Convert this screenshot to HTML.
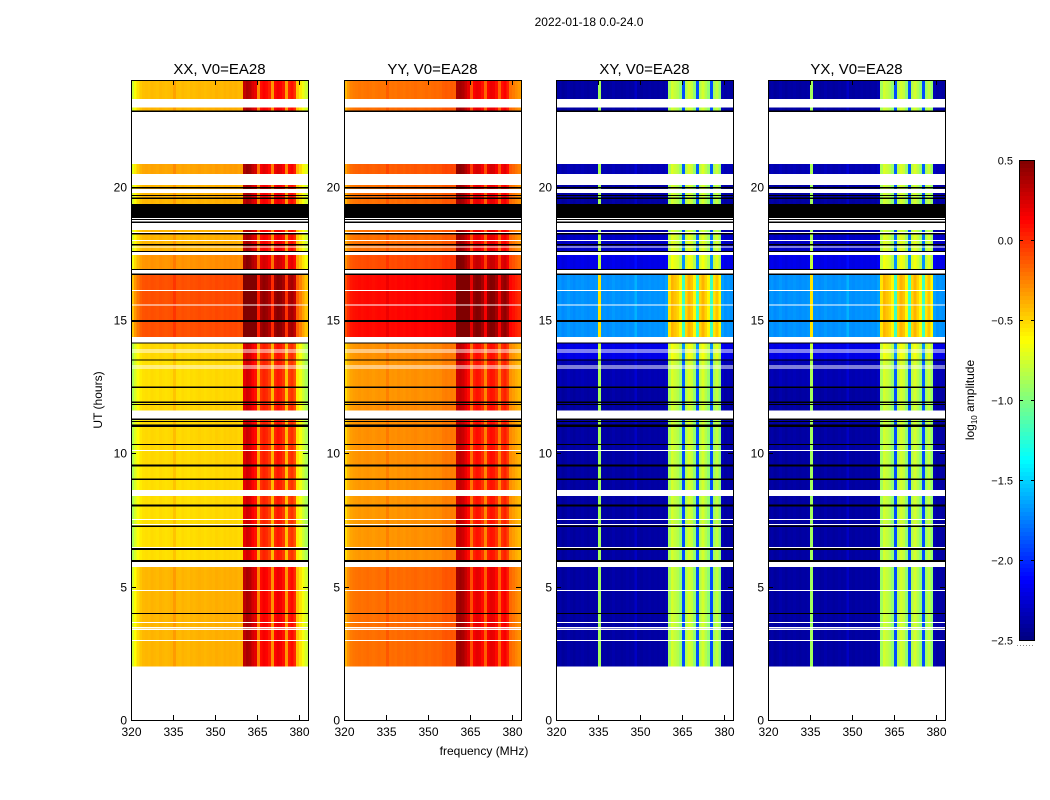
<!DOCTYPE html>
<html><head><meta charset="utf-8">
<style>
html,body{margin:0;padding:0;background:#fff;}
svg{display:block;font-family:"Liberation Sans",sans-serif;}
</style></head>
<body>
<svg id="fig" width="1050" height="800" viewBox="0 0 1050 800" xmlns="http://www.w3.org/2000/svg">
<text x="589" y="26" font-size="12" text-anchor="middle">2022-01-18 0.0-24.0</text>
<text x="102" y="400" font-size="12" text-anchor="middle" transform="rotate(-90 102 400)">UT (hours)</text>
<text x="484" y="755" font-size="12" text-anchor="middle">frequency (MHz)</text>
<g id="panels"></g>
<g id="cbar"></g>
<text x="974" y="400" font-size="12" text-anchor="middle" transform="rotate(-90 974 400)">log<tspan font-size="8" dy="3">10</tspan><tspan dy="-3"> amplitude</tspan></text>
</svg>
<script>
// ---- data ----
const panelTitles = ["XX, V0=EA28","YY, V0=EA28","XY, V0=EA28","YX, V0=EA28"];
const panelKinds = ["par","par","cross","cross"];
const xTicks = [320,335,350,365,380];
const yTicks = [0,5,10,15,20];
const cbTicks = [0.5,0.0,-0.5,-1.0,-1.5,-2.0,-2.5];
const cbTickLabels = ["0.5","0.0","\u22120.5","\u22121.0","\u22121.5","\u22122.0","\u22122.5"];
// channel profiles (1 MHz channels from 320 MHz), log10 amplitude
const profXX = [-0.85,-0.72,-0.62,-0.55,-0.52,-0.51,-0.52,-0.5,-0.51,-0.52,-0.5,-0.51,-0.52,-0.51,-0.5,-0.43,-0.51,-0.52,-0.5,-0.51,-0.52,-0.5,-0.51,-0.5,-0.49,-0.5,-0.51,-0.5,-0.49,-0.5,-0.48,-0.49,-0.5,-0.48,-0.49,-0.48,-0.49,-0.48,-0.5,-0.49,
  0.22,0.28,0.25,0.15,0.1,-0.35,0.0,0.05,0.02,-0.05,-0.4,0.02,0.08,0.05,-0.02,-0.42,-0.05,0.0,-0.1,-0.55,-0.65,-0.75,-0.85,-0.9];
const profYY = [-0.5,-0.4,-0.34,-0.32,-0.31,-0.3,-0.31,-0.3,-0.29,-0.3,-0.31,-0.3,-0.29,-0.3,-0.3,-0.23,-0.3,-0.29,-0.3,-0.28,-0.29,-0.3,-0.28,-0.29,-0.28,-0.27,-0.28,-0.29,-0.28,-0.27,-0.28,-0.27,-0.26,-0.27,-0.26,-0.23,-0.22,-0.23,-0.22,-0.23,
  0.3,0.32,0.28,0.2,0.12,-0.2,0.05,0.1,0.08,0.0,-0.25,0.05,0.1,0.08,0.0,-0.25,0.0,0.05,-0.05,-0.28,-0.32,-0.36,-0.4,-0.45];
const profXY = [-2.4,-2.38,-2.42,-2.4,-2.37,-2.4,-2.42,-2.39,-2.4,-2.38,-2.4,-2.41,-2.39,-2.4,-2.38,-0.9,-2.4,-2.39,-2.41,-2.4,-2.37,-2.4,-2.39,-2.41,-2.4,-2.38,-2.4,-2.39,-2.3,-2.4,-2.41,-2.39,-2.4,-2.38,-2.4,-2.39,-2.4,-2.38,-2.4,-2.35,
  -0.9,-0.75,-0.8,-0.85,-0.95,-1.9,-0.85,-0.75,-0.8,-0.95,-1.9,-0.85,-0.75,-0.85,-0.95,-1.9,-0.9,-0.8,-0.95,-2.35,-2.4,-2.38,-2.4,-2.4];
const profYX = profXY.map(v=>v);
const profiles = [profXX, profYY, profXY, profYX];
// data segments: start hour, end hour
const segStart = [23.28,22.85,20.48,19.35,18.30,17.55,16.88,14.36,13.50,12.46,11.82,11.60,11.08,9.50,8.62,8.00,6.00,2.00];
const segEnd   = [24.00,22.96,20.85,20.06,18.37,18.26,17.44,16.70,14.12,13.48,12.46,11.82,11.30,10.99,9.50,8.40,8.00,5.74];
const segOffPar   = [0.08,0.1,0.15,0.1,0.1,0.1,0.2,0.4,0.0,-0.02,-0.02,0,0,0,-0.02,-0.02,-0.02,0.1];
const segOffCross = [0,0,0.05,0,0,0.1,0.2,0.7,0.2,0.05,0,0,0,0,0,0,0,0];
// flagged (black) lines: hour, thickness in hours
const blackH = [19.085,22.835,19.97,19.68,19.57,18.775,18.675,18.24,17.83,17.57,16.90,16.72,14.965,14.14,13.50,12.48,11.92,11.84,11.285,11.205,11.035,10.33,9.54,9.03,8.04,7.27,6.41,5.965,4.0];
const blackT = [0.53,0.03,0.03,0.03,0.03,0.03,0.03,0.04,0.03,0.04,0.04,0.04,0.07,0.04,0.04,0.04,0.03,0.03,0.03,0.03,0.09,0.04,0.08,0.04,0.08,0.04,0.07,0.07,0.03];
// gap (white) lines
const whiteH = [19.83,17.98,17.73,16.11,15.56,13.88,13.81,13.28,13.20,11.43,10.11,8.60,8.43,7.52,7.33,6.465,4.85,3.65,3.46,3.39,2.98];
const whiteT = [0.15,0.04,0.04,0.04,0.04,0.03,0.03,0.03,0.03,0.22,0.04,0.04,0.05,0.04,0.04,0.03,0.04,0.04,0.04,0.04,0.04];

// ---- drawing ----
const NS="http://www.w3.org/2000/svg";
const panelX=[131,344,556,768], PW=177, PT=80, PB=720;
const fMin=320, fMax=383.2;
function xs(px,f){return px+(f-fMin)/(fMax-fMin)*PW;}
function ys(h){return PB-(h/24)*(PB-PT);}
function jet(v){
  let t=(v+2.5)/3; t=Math.max(0,Math.min(1,t));
  const c=x=>Math.round(255*Math.max(0,Math.min(1,x)));
  return `rgb(${c(1.5-Math.abs(4*t-3))},${c(1.5-Math.abs(4*t-2))},${c(1.5-Math.abs(4*t-1))})`;
}
function mk(tag,attrs,parent){const e=document.createElementNS(NS,tag);for(const k in attrs)e.setAttribute(k,attrs[k]);parent.appendChild(e);return e;}
const root=document.getElementById('panels');
panelX.forEach((px,p)=>{
  const g=mk('g',{},root);
  
  
  const hm=mk('g',{'shape-rendering':'crispEdges'},g);
  
  
  const prof=profiles[p];
  segStart.forEach((s,i)=>{
    const y0=ys(segEnd[i]), y1=ys(s);
    prof.forEach((b,c)=>{
      const off = panelKinds[p]==='par'? segOffPar[i] : segOffCross[i]*(b<-1.5?1:0.5);
      const f0=fMin+c, f1=Math.min(fMin+c+1,fMax);
      if(f0>=fMax) return;
      const r=mk('rect',{x:xs(px,f0).toFixed(2),y:y0.toFixed(2),width:(xs(px,f1)-xs(px,f0)+0.3).toFixed(2),height:(y1-y0).toFixed(2),fill:jet(b+off)},hm);
      
      
    });
  });
  whiteH.forEach((h,i)=>{
    const r=mk('rect',{x:px,y:ys(h+whiteT[i]/2),width:PW,height:Math.max(1,whiteT[i]/24*640),fill:'#fff'},hm);
    
    
  });
  blackH.forEach((h,i)=>{
    const r=mk('rect',{x:px,y:ys(h+blackT[i]/2),width:PW,height:Math.max(1.2,blackT[i]/24*640),fill:'#000'},hm);
    
    
  });
  const fr=mk('rect',{x:px+0.5,y:PT+0.5,width:PW,height:PB-PT,fill:'none',stroke:'#000','stroke-width':1},g);
  
  
  const t=mk('text',{x:px+PW/2,y:74,'font-size':15,'text-anchor':'middle'},g);
  t.textContent=panelTitles[p];
  
  
  xTicks.forEach(v=>{
    const x=Math.round(xs(px,v))+0.5;
    mk('line',{x1:x,x2:x,y1:PB,y2:PB-5,stroke:'#000'},g);
    mk('line',{x1:x,x2:x,y1:PT,y2:PT+5,stroke:'#000'},g);
    const l=mk('text',{x:x,y:PB+16,'font-size':12,'text-anchor':'middle'},g);
    l.textContent=v;
    
    
  });
  yTicks.forEach(v=>{
    const y=Math.round(ys(v))+0.5;
    mk('line',{x1:px,x2:px+5,y1:y,y2:y,stroke:'#000'},g);
    mk('line',{x1:px+PW,x2:px+PW-5,y1:y,y2:y,stroke:'#000'},g);
    const l=mk('text',{x:px-4,y:y+4,'font-size':12,'text-anchor':'end'},g);
    l.textContent=v;
    
    
  });
});
// colorbar
const cb=document.getElementById('cbar');
const CX=1019,CW=16,CT=160,CB=640;
for(let i=0;i<120;i++){
  const v=0.5-(i+0.5)*3/120;
  mk('rect',{x:CX,y:CT+i*4,width:CW,height:4.3,fill:jet(v),'shape-rendering':'crispEdges'},cb);
}
mk('rect',{x:CX+0.5,y:CT+0.5,width:CW-1,height:CB-CT,fill:'none',stroke:'#000'},cb);
cbTicks.forEach((v,i)=>{
  const y=Math.round(CT+(0.5-v)/3*(CB-CT))+0.5;
  mk('line',{x1:CX,x2:CX+4,y1:y,y2:y,stroke:'#000'},cb);
  mk('line',{x1:CX+CW,x2:CX+CW-4,y1:y,y2:y,stroke:'#000'},cb);
  const l=mk('text',{x:CX-6,y:y+4,'font-size':11,'text-anchor':'end'},cb);
  l.textContent=cbTickLabels[i];
  
  
});
mk('line',{x1:1017,x2:1035,y1:645.5,y2:645.5,stroke:'#888','stroke-dasharray':'1,2'},cb);
</script>
</body></html>
